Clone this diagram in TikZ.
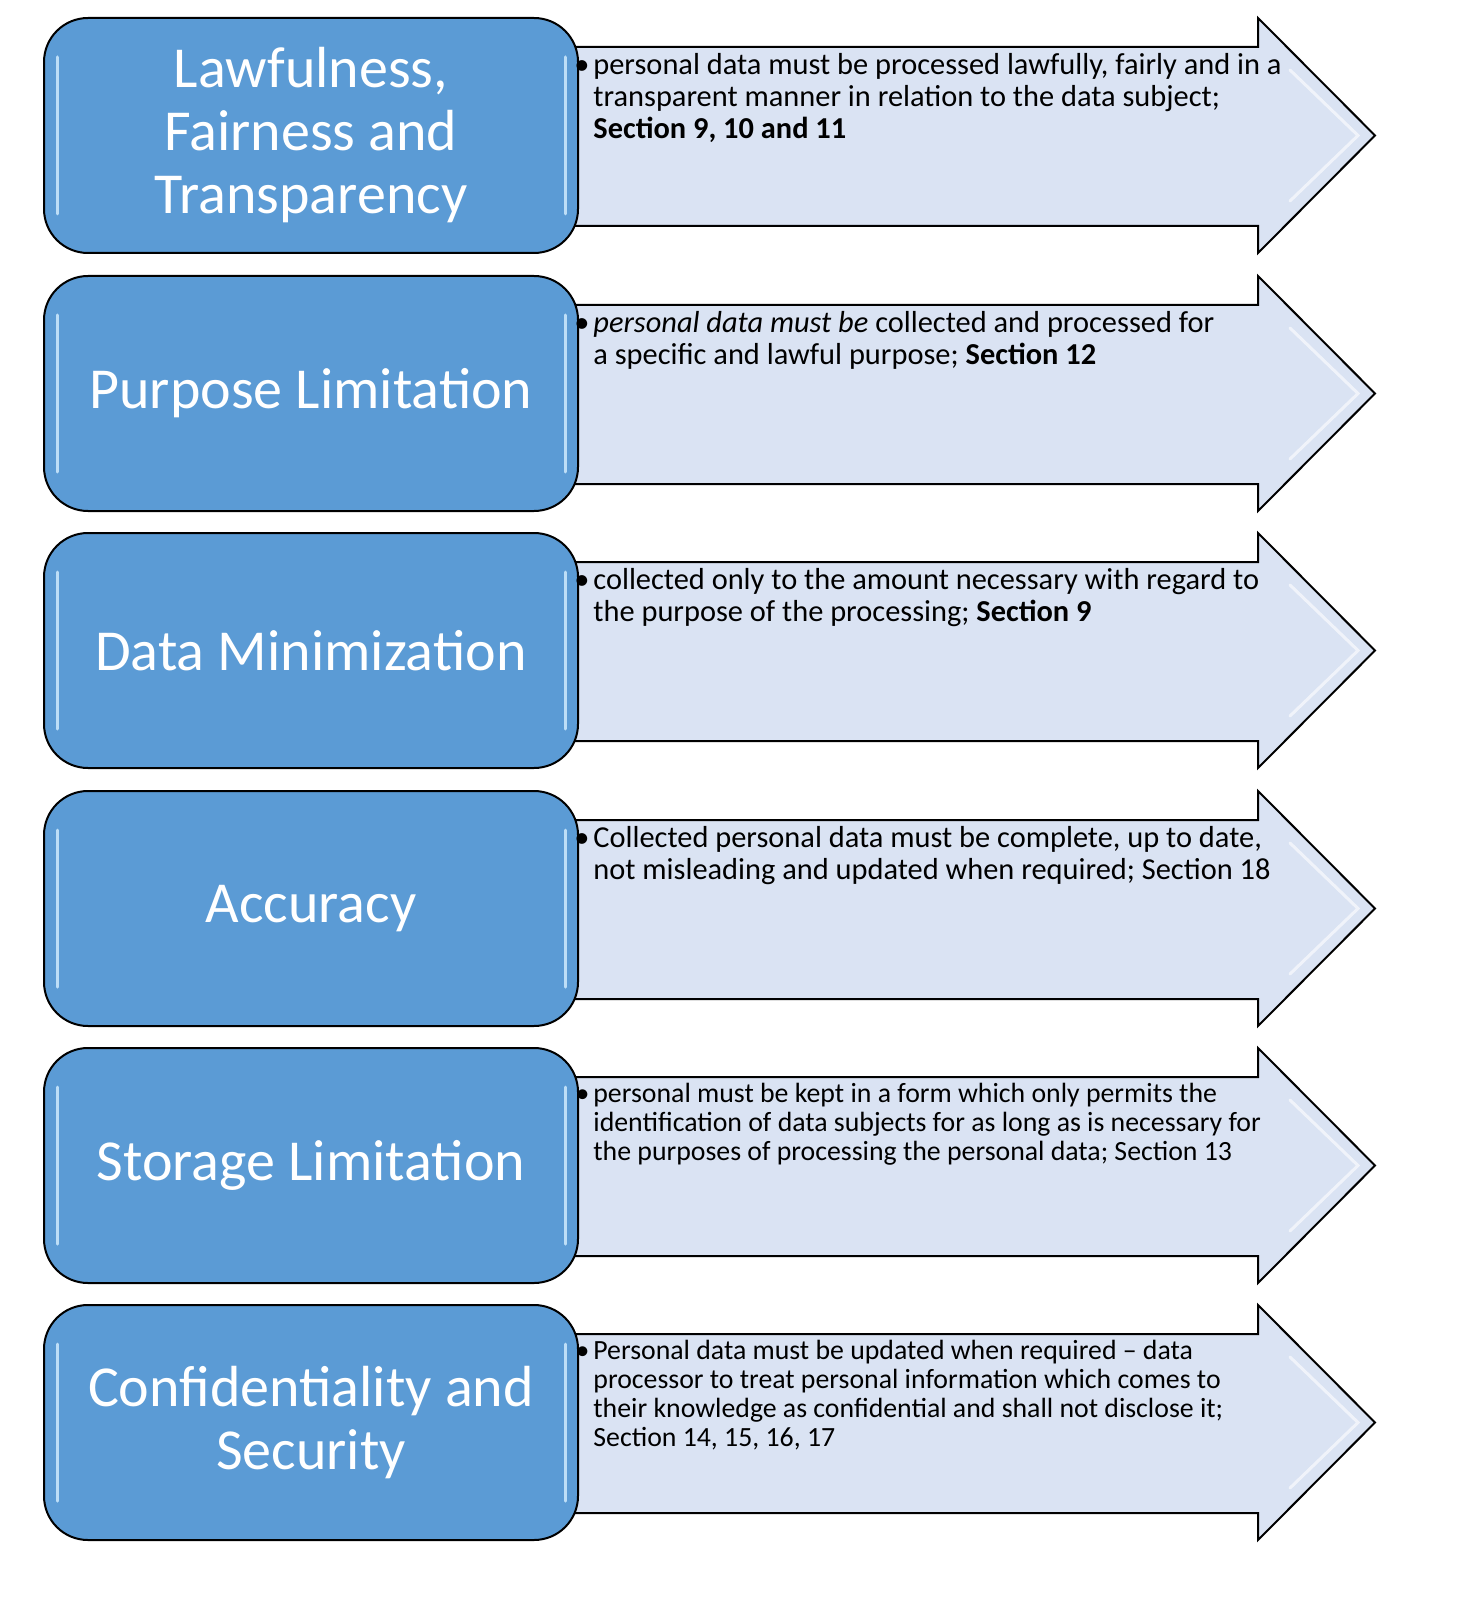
\documentclass[tikz,border=0pt]{standalone}
\usepackage{fontspec}
\setmainfont{Carlito}
\definecolor{boxblue}{HTML}{5B9BD5}
\definecolor{arrowfill}{HTML}{DAE3F3}
\definecolor{glintblue}{HTML}{C8E6FB}
\tikzset{
  title/.style={draw, line width=1pt, fill=boxblue, rounded corners=22pt,
    minimum width=267pt, minimum height=117.5pt, text=white, align=center,
    font=\fontsize{29}{31.5}\selectfont},
  blurb/.style={anchor=north west, inner sep=0pt, align=left,
    font=\fontsize{15.2}{16}\selectfont},
  smallblurb/.style={blurb, font=\fontsize{13.9}{14.5}\selectfont},
  flow/.style={draw, line width=1pt, fill=arrowfill, line join=miter},
  glint/.style={draw=glintblue, line width=1.5pt, line cap=round, opacity=0.9},
  sheen/.style={draw=white, line width=1.5pt, line cap=round, opacity=0.6}
}
\newcommand{\bulletmark}{\llap{\textbullet\hspace{2pt}}}
\begin{document}
\begin{tikzpicture}[x=0.5pt, y=-0.5pt]
    \useasboundingbox (0,0) rectangle (1465,1620);
    % arrows behind the boxes
    \draw[flow] (560,47) -- (1258,47) -- (1258,18) -- (1375,135.5) -- (1258,253) -- (1258,226) -- (560,226) -- cycle;
    \draw[flow] (560,305) -- (1258,305) -- (1258,276) -- (1375,393.5) -- (1258,511) -- (1258,484) -- (560,484) -- cycle;
    \draw[flow] (560,562) -- (1258,562) -- (1258,533) -- (1375,650.5) -- (1258,768) -- (1258,741) -- (560,741) -- cycle;
    \draw[flow] (560,820) -- (1258,820) -- (1258,791) -- (1375,908.5) -- (1258,1026) -- (1258,999) -- (560,999) -- cycle;
    \draw[flow] (560,1077) -- (1258,1077) -- (1258,1048) -- (1375,1165.5) -- (1258,1283) -- (1258,1256) -- (560,1256) -- cycle;
    \draw[flow] (560,1334) -- (1258,1334) -- (1258,1305) -- (1375,1422.5) -- (1258,1540) -- (1258,1513) -- (560,1513) -- cycle;
    % light bevel on the arrow heads
    \foreach \t in {18,276,533,791,1048,1305} {
      \draw[sheen] (1290,\t+52) -- (1358,\t+117.5) -- (1290,\t+183);
    }
    % principle boxes
    \node[title] (b1) at (311,135.5) {Lawfulness,\\ Fairness and\\ Transparency};
    \node[title] (b2) at (311,393.5) {Purpose Limitation};
    \node[title] (b3) at (311,650.5) {Data Minimization};
    \node[title] (b4) at (311,908.5) {Accuracy};
    \node[title] (b5) at (311,1165.5) {Storage Limitation};
    \node[title] (b6) at (311,1422.5) {Confidentiality and\\ Security};
    \foreach \b in {b1,b2,b3,b4,b5,b6} {
      \draw[glint] ([shift={(7pt,-20pt)}]\b.north west) -- ([shift={(7pt,20pt)}]\b.south west);
      \draw[glint] ([shift={(-7pt,-20pt)}]\b.north east) -- ([shift={(-7pt,20pt)}]\b.south east);
    }
    % texts in the arrows
    \node[blurb] (t1) at (593,53) {\bulletmark personal data must be processed lawfully, fairly and in a\\
      transparent manner in relation to the data subject;\\ \textbf{Section 9, 10 and 11}};
    \node[blurb] (t2) at (593,311) {\bulletmark\textit{personal data must be} collected and processed for\\
      a specific and lawful purpose; \textbf{Section 12}};
    \node[blurb] (t3) at (593,568) {\bulletmark collected only to the amount necessary with regard to\\
      the purpose of the processing; \textbf{Section 9}};
    \node[blurb] (t4) at (593,826) {\bulletmark Collected personal data must be complete, up to date,\\
      not misleading and updated when required; Section 18};
    \node[smallblurb] (t5) at (593,1083) {\bulletmark personal must be kept in a form which only permits the\\
      identification of data subjects for as long as is necessary for\\
      the purposes of processing the personal data; Section 13};
    \node[smallblurb] (t6) at (593,1340) {\bulletmark Personal data must be updated when required -- data\\
      processor to treat personal information which comes to\\
      their knowledge as confidential and shall not disclose it;\\ Section 14, 15, 16, 17};
  \end{tikzpicture}
\end{document}
